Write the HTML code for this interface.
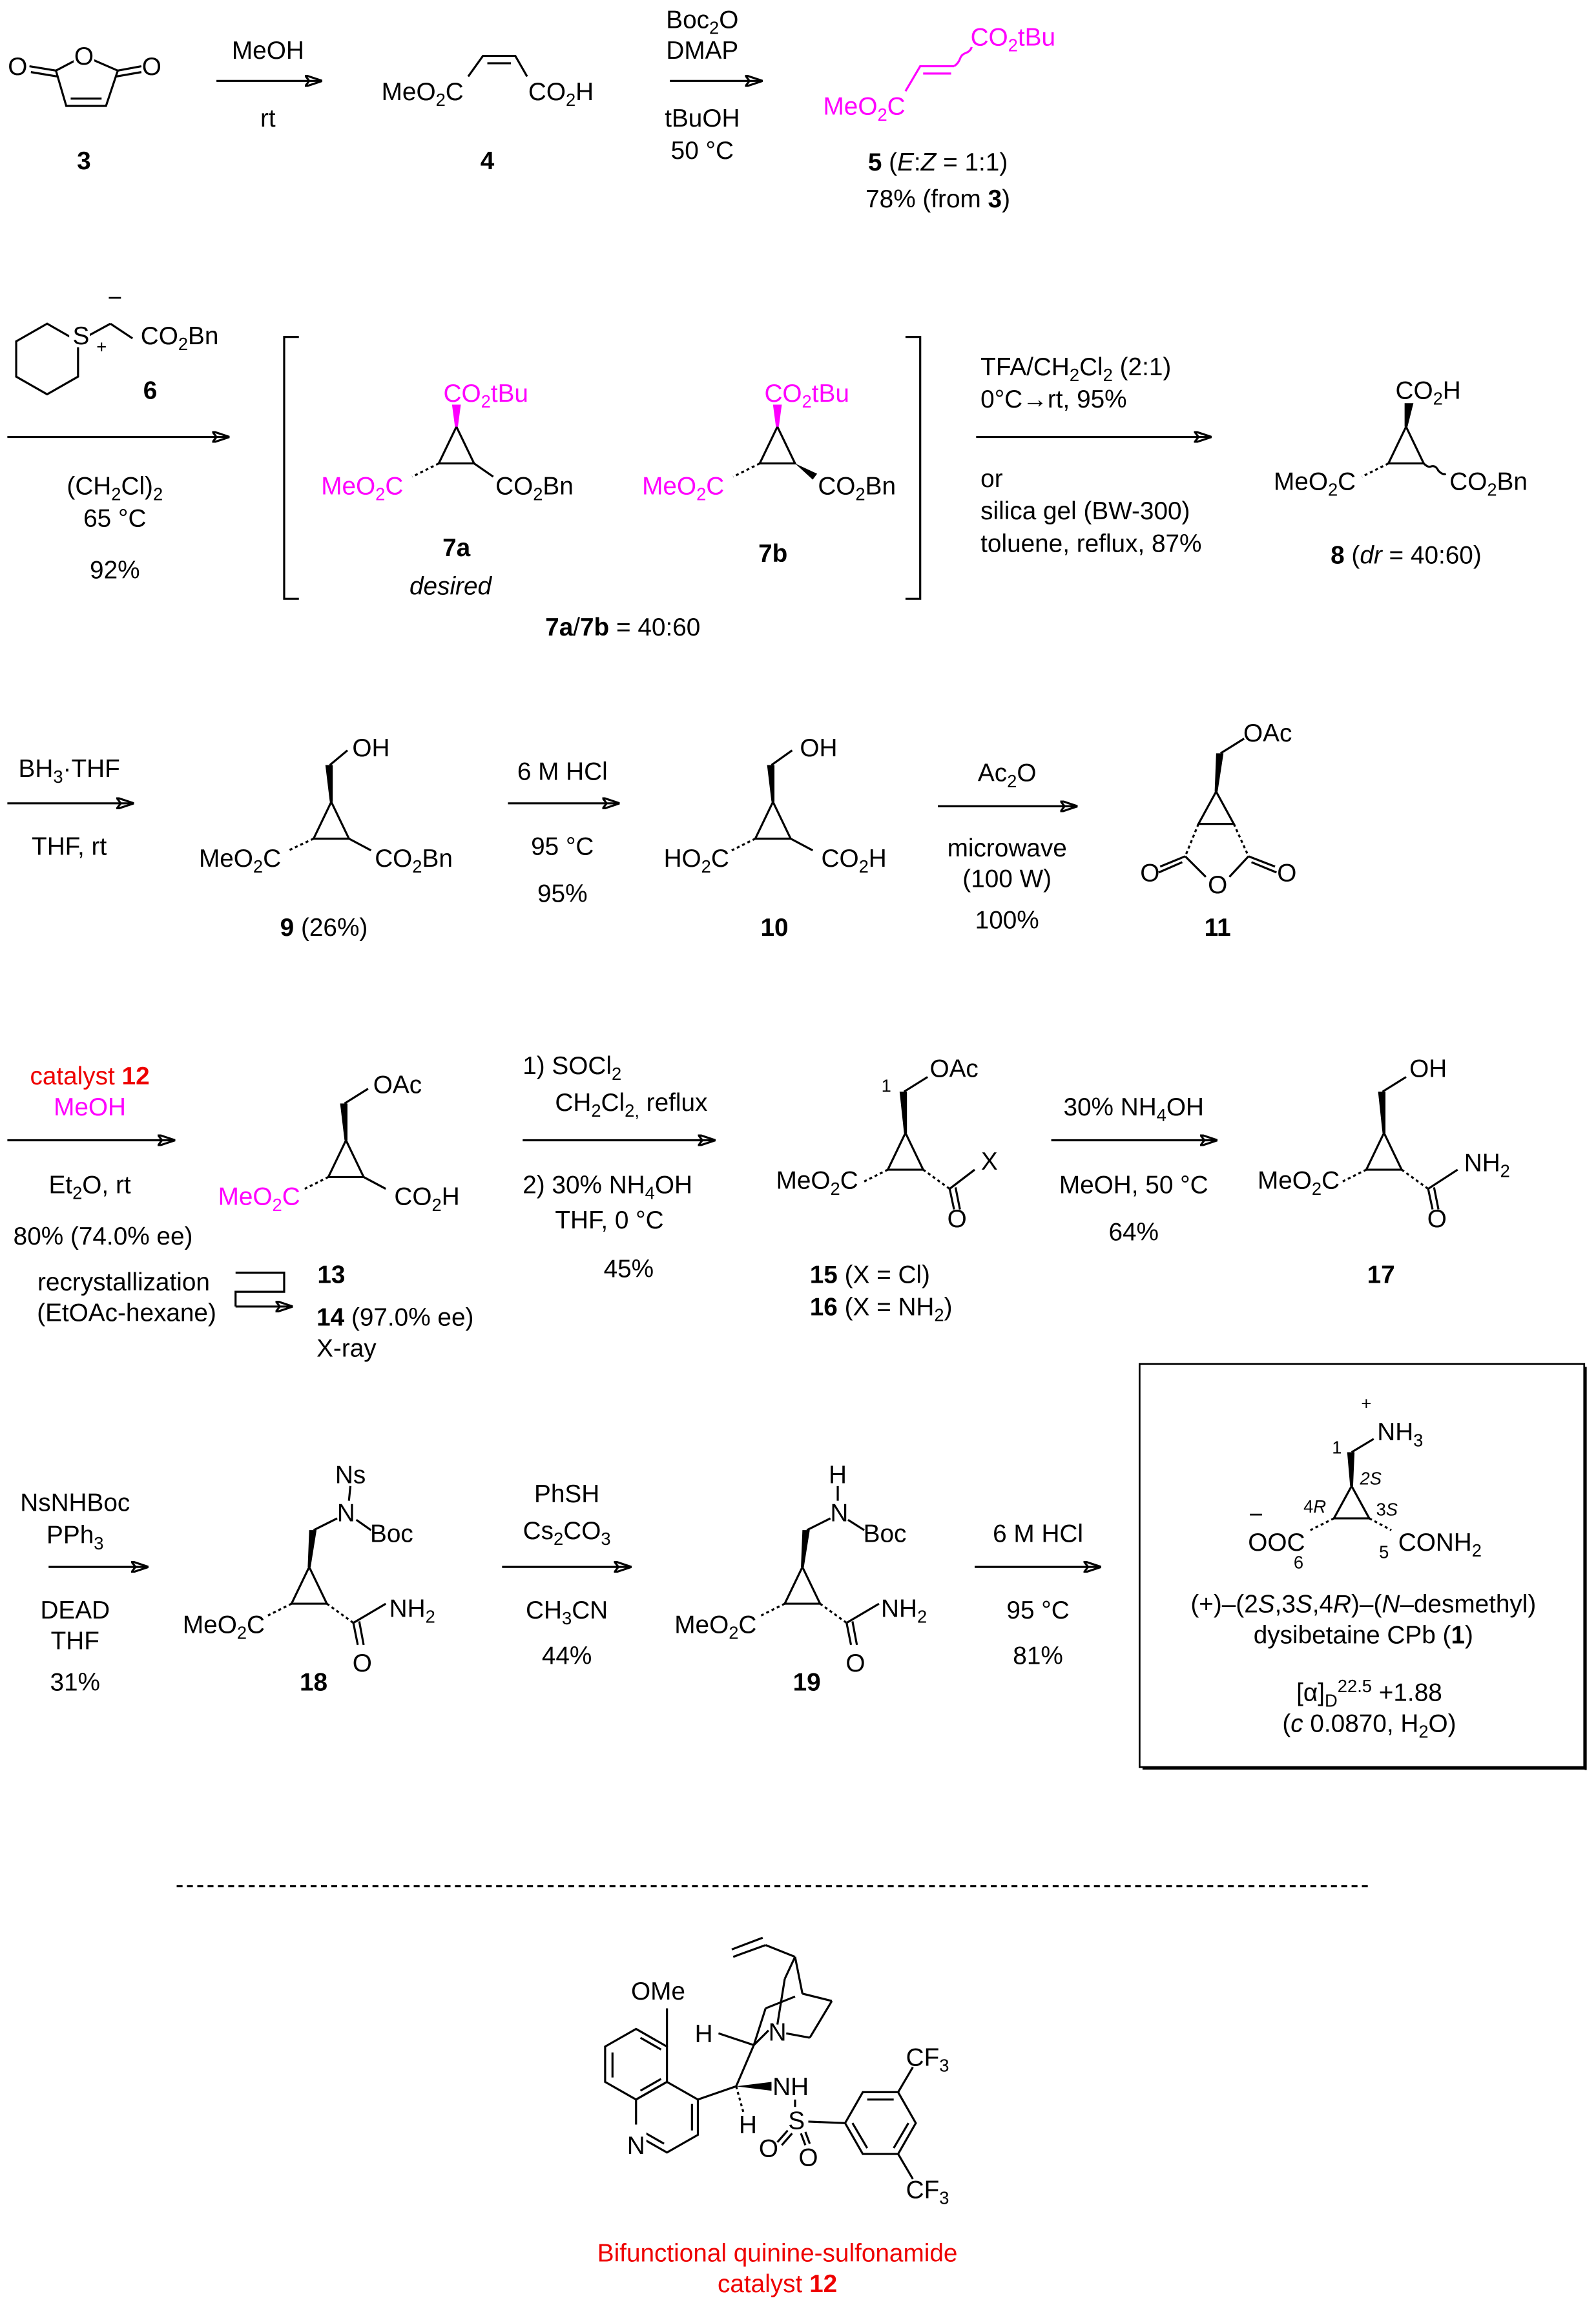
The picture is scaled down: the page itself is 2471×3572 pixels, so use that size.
<!DOCTYPE html>
<html><head><meta charset="utf-8">
<style>
html,body{margin:0;padding:0;background:#fff;}
svg{display:block;}
text{font-family:"Liberation Sans",Arial,sans-serif;font-size:17px;fill:#000;}
.m{fill:#f0f;}
.r{fill:#e00;}
.b{font-weight:bold;}
.s{font-size:12px;}
line,polyline,polygon.o,path{stroke:#000;stroke-width:1.4;fill:none;}
.mg line,.mg polyline,.mg path{stroke:#f0f;}
.h{stroke-dasharray:2 2;}
</style></head><body>
<svg width="2471" height="3572" viewBox="0 0 1084 1568" preserveAspectRatio="none" xmlns="http://www.w3.org/2000/svg">
<defs><marker id="ah" markerWidth="12" markerHeight="8" refX="11" refY="4" orient="auto" markerUnits="userSpaceOnUse"><path d="M0,0 L12,4 L0,8 L3,4 Z" fill="#000" stroke="none"/></marker></defs>

<!-- ROW 1 -->
<!-- 3 -->
<polyline points="38,48 57,38 80,48 72,72 45,72 38,48"/>
<line x1="48" y1="67" x2="69" y2="67"/>
<line x1="38" y1="48" x2="20" y2="45"/><line x1="39" y1="52" x2="21" y2="49"/>
<line x1="80" y1="48" x2="96" y2="45"/><line x1="79" y1="52" x2="96" y2="49"/>
<rect x="50" y="31" width="14" height="14" fill="#fff"/>
<text x="57" y="44" text-anchor="middle">O</text>
<text x="12" y="51" text-anchor="middle">O</text>
<text x="103" y="51" text-anchor="middle">O</text>
<text x="57" y="115" text-anchor="middle" class="b">3</text>
<line x1="147" y1="55" x2="218" y2="55" marker-end="url(#ah)"/>
<text x="182" y="40" text-anchor="middle">MeOH</text>
<text x="182" y="86" text-anchor="middle">rt</text>
<!-- 4 -->
<polyline points="318,52 328,38 350,38 358,52"/><line x1="331" y1="43" x2="347" y2="43"/>
<text x="287" y="68" text-anchor="middle">MeO<tspan class="s" dy="4">2</tspan><tspan dy="-4">C</tspan></text>
<text x="381" y="68" text-anchor="middle">CO<tspan class="s" dy="4">2</tspan><tspan dy="-4">H</tspan></text>
<text x="331" y="115" text-anchor="middle" class="b">4</text>
<line x1="455" y1="55" x2="517" y2="55" marker-end="url(#ah)"/>
<text x="477" y="19" text-anchor="middle">Boc<tspan class="s" dy="4">2</tspan><tspan dy="-4">O</tspan></text>
<text x="477" y="40" text-anchor="middle">DMAP</text>
<text x="477" y="86" text-anchor="middle">tBuOH</text>
<text x="477" y="108" text-anchor="middle">50 °C</text>
<!-- 5 -->
<g class="mg"><polyline points="615,62 625,45 648,45"/><line x1="627" y1="50" x2="646" y2="50"/>
<path d="M648,45 q3,-2 4,-5 q1,-3 4,-4 q3,-1 4,-4"/></g>
<text x="587" y="78" text-anchor="middle" class="m">MeO<tspan class="s m" dy="4">2</tspan><tspan dy="-4">C</tspan></text>
<text x="688" y="31" text-anchor="middle" class="m">CO<tspan class="s m" dy="4">2</tspan><tspan dy="-4">tBu</tspan></text>
<text x="637" y="116" text-anchor="middle"><tspan class="b">5</tspan> (<tspan font-style="italic">E</tspan>:<tspan font-style="italic">Z</tspan> = 1:1)</text>
<text x="637" y="141" text-anchor="middle">78% (from <tspan class="b">3</tspan>)</text>

<!-- ROW 2 -->
<polygon class="o" points="32,220 53,232 53,256 32,268 11,256 11,232"/>
<line x1="53" y1="232" x2="75" y2="220"/><line x1="75" y1="220" x2="90" y2="230"/>
<rect x="47" y="220" width="14" height="16" fill="#fff"/>
<text x="55" y="234" text-anchor="middle">S</text>
<text x="69" y="240" text-anchor="middle" class="s">+</text>
<text x="78" y="208" text-anchor="middle">−</text>
<text x="122" y="234" text-anchor="middle">CO<tspan class="s" dy="4">2</tspan><tspan dy="-4">Bn</tspan></text>
<text x="102" y="271" text-anchor="middle" class="b">6</text>
<line x1="5" y1="297" x2="155" y2="297" marker-end="url(#ah)"/>
<text x="78" y="336" text-anchor="middle">(CH<tspan class="s" dy="4">2</tspan><tspan dy="-4">Cl)</tspan><tspan class="s" dy="4">2</tspan></text>
<text x="78" y="358" text-anchor="middle">65 °C</text>
<text x="78" y="393" text-anchor="middle">92%</text>
<polyline points="203,229 193,229 193,407 203,407"/>
<polyline points="615,229 625,229 625,407 615,407"/>
<!-- 7a -->
<g class="mg"><polygon points="310,290 298,315 322,315" fill="none" stroke="#000" stroke-width="1.4"/></g>
<polygon points="309,290 311,290 313,275 307,275" fill="#f0f" stroke="none"/>
<line class="h" x1="298" y1="315" x2="280" y2="324" stroke="#f0f"/>
<line x1="322" y1="315" x2="335" y2="324"/>
<text x="330" y="273" text-anchor="middle" class="m">CO<tspan class="s m" dy="4">2</tspan><tspan dy="-4">tBu</tspan></text>
<text x="246" y="336" text-anchor="middle" class="m">MeO<tspan class="s m" dy="4">2</tspan><tspan dy="-4">C</tspan></text>
<text x="363" y="336" text-anchor="middle">CO<tspan class="s" dy="4">2</tspan><tspan dy="-4">Bn</tspan></text>
<text x="310" y="378" text-anchor="middle" class="b">7a</text>
<text x="306" y="404" text-anchor="middle" font-style="italic">desired</text>
<!-- 7b -->
<polygon class="o" points="528,290 516,315 540,315"/>
<polygon points="527,290 529,290 531,275 525,275" fill="#f0f" stroke="none"/>
<line class="h" x1="516" y1="315" x2="498" y2="324" stroke="#f0f"/>
<polygon points="540,315 552,326 555,322" fill="#000" stroke="none"/>
<text x="548" y="273" text-anchor="middle" class="m">CO<tspan class="s m" dy="4">2</tspan><tspan dy="-4">tBu</tspan></text>
<text x="464" y="336" text-anchor="middle" class="m">MeO<tspan class="s m" dy="4">2</tspan><tspan dy="-4">C</tspan></text>
<text x="582" y="336" text-anchor="middle">CO<tspan class="s" dy="4">2</tspan><tspan dy="-4">Bn</tspan></text>
<text x="525" y="382" text-anchor="middle" class="b">7b</text>
<text x="423" y="432" text-anchor="middle"><tspan class="b">7a</tspan>/<tspan class="b">7b</tspan> = 40:60</text>
<line x1="663" y1="297" x2="822" y2="297" marker-end="url(#ah)"/>
<text x="666" y="255">TFA/CH<tspan class="s" dy="4">2</tspan><tspan dy="-4">Cl</tspan><tspan class="s" dy="4">2</tspan><tspan dy="-4"> (2:1)</tspan></text>
<text x="666" y="277">0°C→rt, 95%</text>
<text x="666" y="331">or</text>
<text x="666" y="353">silica gel (BW-300)</text>
<text x="666" y="375">toluene, reflux, 87%</text>
<!-- 8 -->
<polygon class="o" points="955,290 943,315 967,315"/>
<polygon points="954,290 956,290 960,274 954,274" fill="#000" stroke="none"/>
<line class="h" x1="943" y1="315" x2="925" y2="324"/>
<path d="M967,315 q3,3 5,2 q3,-1 5,3 q3,3 5,2"/>
<text x="970" y="271" text-anchor="middle">CO<tspan class="s" dy="4">2</tspan><tspan dy="-4">H</tspan></text>
<text x="893" y="333" text-anchor="middle">MeO<tspan class="s" dy="4">2</tspan><tspan dy="-4">C</tspan></text>
<text x="1011" y="333" text-anchor="middle">CO<tspan class="s" dy="4">2</tspan><tspan dy="-4">Bn</tspan></text>
<text x="955" y="383" text-anchor="middle"><tspan class="b">8</tspan> (<tspan font-style="italic">dr</tspan> = 40:60)</text>

<!-- ROW 3 -->
<line x1="5" y1="546" x2="90" y2="546" marker-end="url(#ah)"/>
<text x="47" y="528" text-anchor="middle">BH<tspan class="s" dy="4">3</tspan><tspan dy="-4">·THF</tspan></text>
<text x="47" y="581" text-anchor="middle">THF, rt</text>
<!-- 9 -->
<polygon class="o" points="225,545 213,570 237,570"/>
<polygon points="224,545 226,545 226,520 221,520" fill="#000" stroke="none"/>
<line x1="224" y1="520" x2="236" y2="510"/>
<line class="h" x1="213" y1="570" x2="196" y2="578"/>
<line x1="237" y1="570" x2="252" y2="578"/>
<text x="252" y="514" text-anchor="middle">OH</text>
<text x="163" y="589" text-anchor="middle">MeO<tspan class="s" dy="4">2</tspan><tspan dy="-4">C</tspan></text>
<text x="281" y="589" text-anchor="middle">CO<tspan class="s" dy="4">2</tspan><tspan dy="-4">Bn</tspan></text>
<text x="220" y="636" text-anchor="middle"><tspan class="b">9</tspan> (26%)</text>
<line x1="345" y1="546" x2="420" y2="546" marker-end="url(#ah)"/>
<text x="382" y="530" text-anchor="middle">6 M HCl</text>
<text x="382" y="581" text-anchor="middle">95 °C</text>
<text x="382" y="613" text-anchor="middle">95%</text>
<!-- 10 -->
<polygon class="o" points="525,545 513,570 537,570"/>
<polygon points="524,545 526,545 526,520 521,520" fill="#000" stroke="none"/>
<line x1="524" y1="520" x2="538" y2="510"/>
<line class="h" x1="513" y1="570" x2="497" y2="578"/>
<line x1="537" y1="570" x2="552" y2="578"/>
<text x="556" y="514" text-anchor="middle">OH</text>
<text x="473" y="589" text-anchor="middle">HO<tspan class="s" dy="4">2</tspan><tspan dy="-4">C</tspan></text>
<text x="580" y="589" text-anchor="middle">CO<tspan class="s" dy="4">2</tspan><tspan dy="-4">H</tspan></text>
<text x="526" y="636" text-anchor="middle" class="b">10</text>
<line x1="637" y1="548" x2="731" y2="548" marker-end="url(#ah)"/>
<text x="684" y="531" text-anchor="middle">Ac<tspan class="s" dy="4">2</tspan><tspan dy="-4">O</tspan></text>
<text x="684" y="582" text-anchor="middle">microwave</text>
<text x="684" y="603" text-anchor="middle">(100 W)</text>
<text x="684" y="631" text-anchor="middle">100%</text>
<!-- 11 -->
<polygon class="o" points="826,538 814,560 838,560"/>
<polygon points="825,538 827,538 831,512 826,512" fill="#000" stroke="none"/>
<line x1="829" y1="512" x2="845" y2="502"/>
<line class="h" x1="814" y1="560" x2="805" y2="582"/>
<line class="h" x1="838" y1="560" x2="848" y2="582"/>
<line x1="805" y1="582" x2="819" y2="596"/><line x1="848" y1="582" x2="835" y2="596"/>
<line x1="805" y1="582" x2="788" y2="589"/><line x1="803" y1="586" x2="787" y2="593"/>
<line x1="848" y1="582" x2="866" y2="589"/><line x1="850" y1="586" x2="867" y2="593"/>
<text x="861" y="504" text-anchor="middle">OAc</text>
<text x="827" y="607" text-anchor="middle">O</text>
<text x="781" y="599" text-anchor="middle">O</text>
<text x="874" y="599" text-anchor="middle">O</text>
<text x="827" y="636" text-anchor="middle" class="b">11</text>

<!-- ROW 4 -->
<line x1="5" y1="775" x2="118" y2="775" marker-end="url(#ah)"/>
<text x="61" y="737" text-anchor="middle" class="r">catalyst <tspan class="b r">12</tspan></text>
<text x="61" y="758" text-anchor="middle" class="m">MeOH</text>
<text x="61" y="811" text-anchor="middle">Et<tspan class="s" dy="4">2</tspan><tspan dy="-4">O, rt</tspan></text>
<text x="70" y="846" text-anchor="middle">80% (74.0% ee)</text>
<text x="84" y="877" text-anchor="middle">recrystallization</text>
<text x="86" y="898" text-anchor="middle">(EtOAc-hexane)</text>
<polyline points="160,865 193,865 193,878 160,878 160,888"/>
<line x1="160" y1="888" x2="198" y2="888" marker-end="url(#ah)"/>
<!-- 13 -->
<polygon class="o" points="235,775 223,800 247,800"/>
<polygon points="234,775 236,775 236,750 231,750" fill="#000" stroke="none"/>
<line x1="234" y1="750" x2="250" y2="740"/>
<line class="h" x1="223" y1="800" x2="207" y2="808" stroke="#f0f"/>
<line x1="247" y1="800" x2="262" y2="808"/>
<text x="270" y="743" text-anchor="middle">OAc</text>
<text x="176" y="819" text-anchor="middle" class="m">MeO<tspan class="s m" dy="4">2</tspan><tspan dy="-4">C</tspan></text>
<text x="290" y="819" text-anchor="middle">CO<tspan class="s" dy="4">2</tspan><tspan dy="-4">H</tspan></text>
<text x="225" y="872" text-anchor="middle" class="b">13</text>
<text x="215" y="901"><tspan class="b">14</tspan> (97.0% ee)</text>
<text x="215" y="922">X-ray</text>
<line x1="355" y1="775" x2="485" y2="775" marker-end="url(#ah)"/>
<text x="355" y="730">1) SOCl<tspan class="s" dy="4">2</tspan></text>
<text x="377" y="755">CH<tspan class="s" dy="4">2</tspan><tspan dy="-4">Cl</tspan><tspan class="s" dy="4">2,</tspan><tspan dy="-4"> reflux</tspan></text>
<text x="355" y="811">2) 30% NH<tspan class="s" dy="4">4</tspan><tspan dy="-4">OH</tspan></text>
<text x="377" y="835">THF, 0 °C</text>
<text x="427" y="868" text-anchor="middle">45%</text>
<!-- 15 -->
<polygon class="o" points="615,770 603,795 627,795"/>
<polygon points="614,770 616,770 616,742 611,742" fill="#000" stroke="none"/>
<line x1="614" y1="742" x2="630" y2="732"/>
<line class="h" x1="603" y1="795" x2="587" y2="803"/>
<line class="h" x1="627" y1="795" x2="645" y2="808"/>
<line x1="645" y1="808" x2="662" y2="795"/>
<line x1="645" y1="808" x2="648" y2="822"/><line x1="649" y1="807" x2="652" y2="822"/>
<text x="602" y="742" text-anchor="middle" class="s">1</text>
<text x="648" y="732" text-anchor="middle">OAc</text>
<text x="555" y="808" text-anchor="middle">MeO<tspan class="s" dy="4">2</tspan><tspan dy="-4">C</tspan></text>
<text x="672" y="795" text-anchor="middle">X</text>
<text x="650" y="834" text-anchor="middle">O</text>
<text x="550" y="872"><tspan class="b">15</tspan> (X = Cl)</text>
<text x="550" y="894"><tspan class="b">16</tspan> (X = NH<tspan class="s" dy="4">2</tspan><tspan dy="-4">)</tspan></text>
<line x1="714" y1="775" x2="826" y2="775" marker-end="url(#ah)"/>
<text x="770" y="758" text-anchor="middle">30% NH<tspan class="s" dy="4">4</tspan><tspan dy="-4">OH</tspan></text>
<text x="770" y="811" text-anchor="middle">MeOH, 50 °C</text>
<text x="770" y="843" text-anchor="middle">64%</text>
<!-- 17 -->
<polygon class="o" points="940,770 928,795 952,795"/>
<polygon points="939,770 941,770 941,742 936,742" fill="#000" stroke="none"/>
<line x1="939" y1="742" x2="955" y2="732"/>
<line class="h" x1="928" y1="795" x2="912" y2="803"/>
<line class="h" x1="952" y1="795" x2="970" y2="808"/>
<line x1="970" y1="808" x2="990" y2="795"/>
<line x1="970" y1="808" x2="973" y2="822"/><line x1="974" y1="807" x2="977" y2="822"/>
<text x="970" y="732" text-anchor="middle">OH</text>
<text x="882" y="808" text-anchor="middle">MeO<tspan class="s" dy="4">2</tspan><tspan dy="-4">C</tspan></text>
<text x="1010" y="796" text-anchor="middle">NH<tspan class="s" dy="4">2</tspan></text>
<text x="976" y="834" text-anchor="middle">O</text>
<text x="938" y="872" text-anchor="middle" class="b">17</text>

<!-- ROW 5 -->
<line x1="33" y1="1065" x2="100" y2="1065" marker-end="url(#ah)"/>
<text x="51" y="1027" text-anchor="middle">NsNHBoc</text>
<text x="51" y="1049" text-anchor="middle">PPh<tspan class="s" dy="4">3</tspan></text>
<text x="51" y="1100" text-anchor="middle">DEAD</text>
<text x="51" y="1121" text-anchor="middle">THF</text>
<text x="51" y="1149" text-anchor="middle">31%</text>
<!-- 18 -->
<polygon class="o" points="210,1065 198,1090 222,1090"/>
<polygon points="209,1065 211,1065 215,1040 210,1040" fill="#000" stroke="none"/>
<line x1="213" y1="1040" x2="229" y2="1032"/>
<line x1="238" y1="1010" x2="237" y2="1020"/>
<line x1="242" y1="1033" x2="252" y2="1040"/>
<line class="h" x1="198" y1="1090" x2="182" y2="1098"/>
<line class="h" x1="222" y1="1090" x2="240" y2="1103"/>
<line x1="240" y1="1103" x2="262" y2="1090"/>
<line x1="240" y1="1103" x2="243" y2="1118"/><line x1="244" y1="1102" x2="247" y2="1118"/>
<text x="238" y="1008" text-anchor="middle">Ns</text>
<text x="235" y="1034" text-anchor="middle">N</text>
<text x="266" y="1048" text-anchor="middle">Boc</text>
<text x="152" y="1110" text-anchor="middle">MeO<tspan class="s" dy="4">2</tspan><tspan dy="-4">C</tspan></text>
<text x="280" y="1099" text-anchor="middle">NH<tspan class="s" dy="4">2</tspan></text>
<text x="246" y="1136" text-anchor="middle">O</text>
<text x="213" y="1149" text-anchor="middle" class="b">18</text>
<line x1="341" y1="1065" x2="428" y2="1065" marker-end="url(#ah)"/>
<text x="385" y="1021" text-anchor="middle">PhSH</text>
<text x="385" y="1046" text-anchor="middle">Cs<tspan class="s" dy="4">2</tspan><tspan dy="-4">CO</tspan><tspan class="s" dy="4">3</tspan></text>
<text x="385" y="1100" text-anchor="middle">CH<tspan class="s" dy="4">3</tspan><tspan dy="-4">CN</tspan></text>
<text x="385" y="1131" text-anchor="middle">44%</text>
<!-- 19 -->
<polygon class="o" points="545,1065 533,1090 557,1090"/>
<polygon points="544,1065 546,1065 550,1040 545,1040" fill="#000" stroke="none"/>
<line x1="548" y1="1040" x2="564" y2="1032"/>
<line x1="569" y1="1010" x2="569" y2="1020"/>
<line x1="576" y1="1033" x2="587" y2="1040"/>
<line class="h" x1="533" y1="1090" x2="517" y2="1098"/>
<line class="h" x1="557" y1="1090" x2="575" y2="1103"/>
<line x1="575" y1="1103" x2="597" y2="1090"/>
<line x1="575" y1="1103" x2="578" y2="1118"/><line x1="579" y1="1102" x2="582" y2="1118"/>
<text x="569" y="1008" text-anchor="middle">H</text>
<text x="570" y="1034" text-anchor="middle">N</text>
<text x="601" y="1048" text-anchor="middle">Boc</text>
<text x="486" y="1110" text-anchor="middle">MeO<tspan class="s" dy="4">2</tspan><tspan dy="-4">C</tspan></text>
<text x="614" y="1099" text-anchor="middle">NH<tspan class="s" dy="4">2</tspan></text>
<text x="581" y="1136" text-anchor="middle">O</text>
<text x="548" y="1149" text-anchor="middle" class="b">19</text>
<line x1="662" y1="1065" x2="747" y2="1065" marker-end="url(#ah)"/>
<text x="705" y="1048" text-anchor="middle">6 M HCl</text>
<text x="705" y="1100" text-anchor="middle">95 °C</text>
<text x="705" y="1131" text-anchor="middle">81%</text>
<!-- box -->
<rect x="774" y="927" width="302" height="274" fill="none" stroke="#000" stroke-width="1.2"/>
<line x1="1077" y1="929" x2="1077" y2="1203" stroke="#666" stroke-width="2.5"/>
<line x1="776" y1="1202" x2="1077" y2="1202" stroke="#666" stroke-width="2.5"/>
<polygon class="o" points="918,1010 906,1032 930,1032"/>
<polygon points="917,1010 919,1010 920,987 915,987" fill="#000" stroke="none"/>
<line x1="918" y1="987" x2="933" y2="978"/>
<line class="h" x1="906" y1="1032" x2="890" y2="1040"/>
<line class="h" x1="930" y1="1032" x2="945" y2="1040"/>
<text x="928" y="958" text-anchor="middle" class="s">+</text>
<text x="951" y="979" text-anchor="middle">NH<tspan class="s" dy="4">3</tspan></text>
<text x="908" y="988" text-anchor="middle" class="s">1</text>
<text x="931" y="1009" text-anchor="middle" class="s" font-style="italic">2S</text>
<text x="893" y="1028" text-anchor="middle" class="s">4<tspan font-style="italic">R</tspan></text>
<text x="942" y="1030" text-anchor="middle" class="s">3<tspan font-style="italic">S</tspan></text>
<text x="853" y="1035" text-anchor="middle">−</text>
<text x="867" y="1054" text-anchor="middle">OOC</text>
<text x="882" y="1066" text-anchor="middle" class="s">6</text>
<text x="940" y="1059" text-anchor="middle" class="s">5</text>
<text x="978" y="1054" text-anchor="middle">CONH<tspan class="s" dy="4">2</tspan></text>
<text x="926" y="1096" text-anchor="middle">(+)–(2<tspan font-style="italic">S</tspan>,3<tspan font-style="italic">S</tspan>,4<tspan font-style="italic">R</tspan>)–(<tspan font-style="italic">N</tspan>–desmethyl)</text>
<text x="926" y="1117" text-anchor="middle">dysibetaine CPb (<tspan class="b">1</tspan>)</text>
<text x="930" y="1156" text-anchor="middle">[α]<tspan class="s" dy="4">D</tspan><tspan class="s" dy="-10">22.5</tspan><tspan dy="6"> +1.88</tspan></text>
<text x="930" y="1177" text-anchor="middle">(<tspan font-style="italic">c</tspan> 0.0870, H<tspan class="s" dy="4">2</tspan><tspan dy="-4">O)</tspan></text>

<line x1="120" y1="1282" x2="930" y2="1282" stroke-dasharray="4 3" stroke-width="1"/>

<!-- catalyst 12 -->
<polygon class="o" points="432,1379 453,1391 453,1415 432,1427 411,1415 411,1391"/>
<line x1="416" y1="1395" x2="416" y2="1412"/><line x1="435" y1="1385" x2="449" y2="1393"/><line x1="435" y1="1421" x2="449" y2="1413"/>
<polygon class="o" points="453,1415 474,1427 474,1451 453,1463 432,1451 432,1427"/>
<line x1="470" y1="1430" x2="470" y2="1448"/><line x1="437" y1="1449" x2="451" y2="1457"/>
<line x1="453" y1="1391" x2="453" y2="1365"/>
<rect x="425" y="1444" width="14" height="16" fill="#fff"/>
<text x="432" y="1464" text-anchor="middle">N</text>
<text x="447" y="1359" text-anchor="middle">OMe</text>
<line x1="474" y1="1427" x2="500" y2="1418"/>
<line class="h" x1="500" y1="1418" x2="505" y2="1436"/>
<text x="508" y="1450" text-anchor="middle">H</text>
<polygon points="500,1418 524,1415 524,1421" fill="#000" stroke="none"/>
<text x="537" y="1424" text-anchor="middle">NH</text>
<line x1="540" y1="1427" x2="540" y2="1432"/>
<text x="541" y="1447" text-anchor="middle">S</text>
<line x1="535" y1="1448" x2="528" y2="1456"/><line x1="538" y1="1450" x2="531" y2="1458"/>
<line x1="544" y1="1450" x2="547" y2="1458"/><line x1="547" y1="1449" x2="550" y2="1457"/>
<text x="522" y="1466" text-anchor="middle">O</text>
<text x="549" y="1472" text-anchor="middle">O</text>
<line x1="549" y1="1442" x2="574" y2="1443"/>
<polygon class="o" points="574,1443 586,1422 610,1422 622,1443 610,1464 586,1464"/>
<line x1="589" y1="1427" x2="607" y2="1427"/><line x1="617" y1="1443" x2="607" y2="1460"/><line x1="579" y1="1443" x2="589" y2="1460"/>
<line x1="610" y1="1422" x2="620" y2="1405"/><line x1="610" y1="1464" x2="620" y2="1481"/>
<text x="630" y="1404" text-anchor="middle">CF<tspan class="s" dy="4">3</tspan></text>
<text x="630" y="1494" text-anchor="middle">CF<tspan class="s" dy="4">3</tspan></text>
<line x1="500" y1="1418" x2="512" y2="1390"/>
<line x1="512" y1="1390" x2="488" y2="1382"/>
<text x="478" y="1388" text-anchor="middle">H</text>
<line x1="512" y1="1390" x2="520" y2="1365"/>
<line x1="512" y1="1390" x2="522" y2="1380"/>
<text x="528" y="1387" text-anchor="middle">N</text>
<line x1="520" y1="1365" x2="540" y2="1357"/>
<line x1="534" y1="1382" x2="550" y2="1385"/>
<line x1="550" y1="1385" x2="565" y2="1360"/>
<line x1="565" y1="1360" x2="545" y2="1355"/>
<line x1="540" y1="1330" x2="545" y2="1355"/>
<line x1="528" y1="1376" x2="533" y2="1345"/>
<line x1="533" y1="1345" x2="540" y2="1330"/>
<line x1="540" y1="1330" x2="520" y2="1322"/>
<line x1="520" y1="1322" x2="498" y2="1330"/><line x1="518" y1="1317" x2="497" y2="1325"/>
<text x="528" y="1537" text-anchor="middle" class="r">Bifunctional quinine-sulfonamide</text>
<text x="528" y="1558" text-anchor="middle" class="r">catalyst <tspan class="b r">12</tspan></text>
</svg>
</body></html>
